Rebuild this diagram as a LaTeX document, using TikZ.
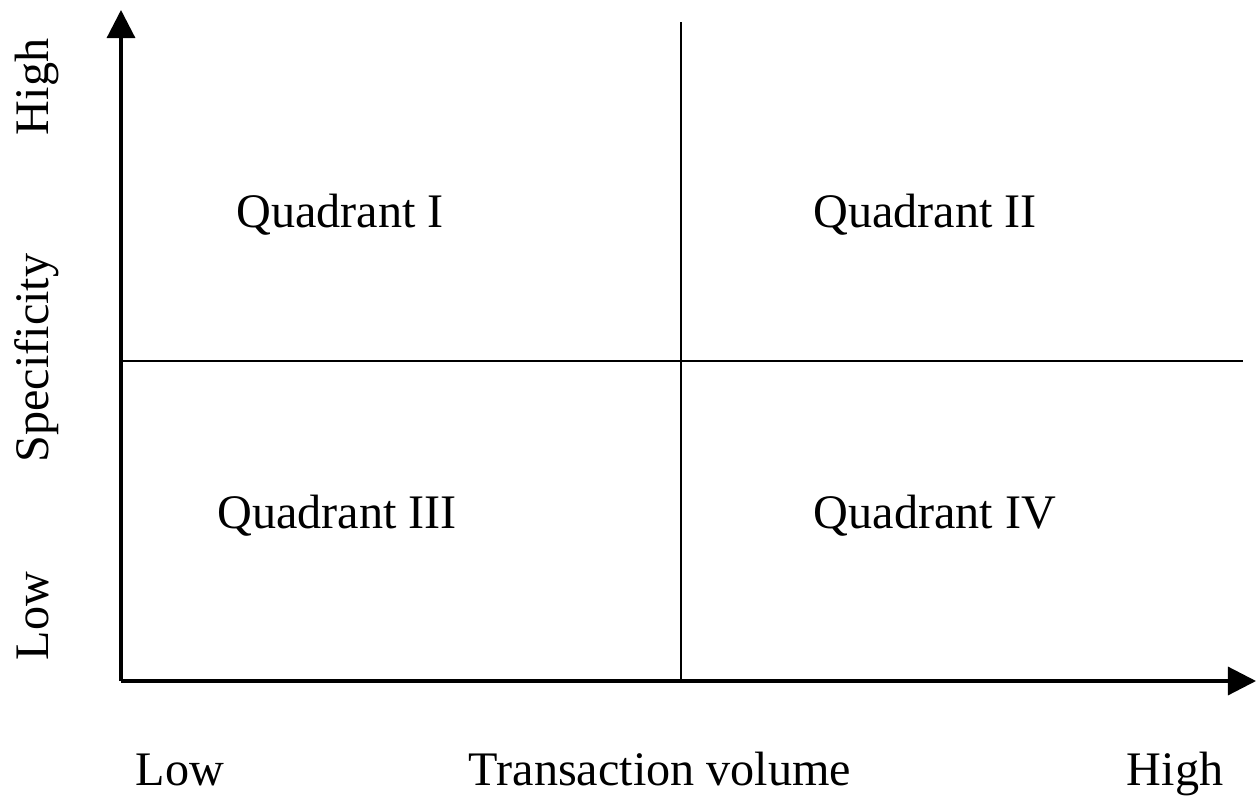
\documentclass[tikz,border=0pt]{standalone}
\usepackage{fontspec}
\setmainfont{Liberation Serif}
\usetikzlibrary{arrows.meta}
\begin{document}
\begin{tikzpicture}[x=0.01cm,y=-0.01cm,
  axisline/.style={line width=0.9pt,-{Triangle[length=0.28cm,width=0.28cm]}},
  divider/.style={line width=0.5pt},
  lbl/.style={font=\fontsize{13.7}{16}\selectfont,inner sep=0pt},
  blbl/.style={lbl,anchor=base},
  ylbl/.style={lbl,anchor=base,rotate=90}]
\useasboundingbox (0,0) rectangle (1257,800);
\coordinate (O) at (121,681);
\coordinate (ytop) at (121,10);
\coordinate (xend) at (1256,681);
\coordinate (vtop) at (681,22);
\coordinate (vbot) at (681,681);
\coordinate (hl) at (121,361);
\coordinate (hr) at (1243,361);
\draw[divider] (vtop) -- (vbot);
\draw[divider] (hl) -- (hr);
\draw[axisline] (O) -- (ytop);
\draw[axisline] (O) -- (xend);
\node[blbl] (q1) at (340,227) {Quadrant I};
\node[blbl] (q2) at (925,227) {Quadrant II};
\node[blbl] (q3) at (337,528) {Quadrant III};
\node[blbl] (q4) at (935,528) {Quadrant IV};
\node[blbl] (xlow) at (180,785) {Low};
\node[blbl] (xlab) at (660,785) {Transaction volume};
\node[blbl] (xhigh) at (1175,785) {High};
\node[ylbl] (yhigh) at (48,87) {High};
\node[ylbl] (ylab) at (48,358) {Specificity};
\node[ylbl] (ylow) at (48,616) {Low};
\end{tikzpicture}
\end{document}
